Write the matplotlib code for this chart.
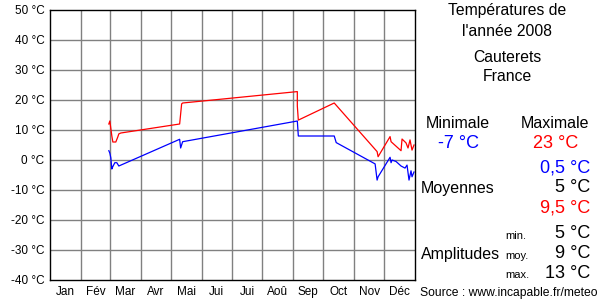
import matplotlib
matplotlib.use("Agg")
import matplotlib.pyplot as plt
import numpy as np

plt.rcParams["font.family"] = ["Liberation Sans", "DejaVu Sans"]

# day of year (0 = 1 Jan) and temperatures
max_days = [59, 60, 62, 63, 66, 68, 69, 71, 130, 132, 133, 248, 248, 249, 285, 328, 329, 341, 342, 352, 353, 357, 359, 361, 363, 365]
max_temp = [12, 13, 8, 6, 6, 7.7, 8.7, 9, 12, 18.7, 19, 22.8, 18, 13.3, 19, 2.8, 1.1, 7.8, 6.1, 3.1, 7, 5.7, 4, 6.7, 3.3, 5]
min_days = [59, 60, 61, 62, 63, 65, 67, 69, 130, 131, 133, 248, 249, 285, 287, 326, 328, 329, 341, 342, 343, 347, 352, 356, 358, 360, 362, 363, 365]
min_temp = [3.1, 2.3, 0.7, -3, -2.2, -0.9, -0.9, -2, 6.9, 4, 6.1, 13, 8, 8, 5.8, -1.3, -6.7, -5.6, 0.9, -0.9, 0, -0.5, -2, -2.7, -1.7, -6.7, -3.6, -5.6, -4]

month_labels = ["Jan", "Fév", "Mar", "Avr", "Mai", "Jui", "Jui", "Aoû", "Sep", "Oct", "Nov", "Déc"]
month_len = [31, 29, 31, 30, 31, 30, 31, 31, 30, 31, 30, 31]
y_ticks = [50, 40, 30, 20, 10, 0, -10, -20, -30, -40]

fig = plt.figure(figsize=(6, 3), dpi=100)
ax = fig.add_axes([50 / 600, 20 / 300, 365 / 600, 270 / 300])

edges = np.concatenate([[0], np.cumsum(month_len)])
scale = 365 / edges[-1]
edges = edges * scale
mids = (edges[:-1] + edges[1:]) / 2

ax.set_xlim(0, 365)
ax.set_ylim(-40, 50)
for e in edges[1:-1]:
    ax.axvline(e, color="#808080", lw=1.0, zorder=0)
for t in y_ticks[1:-1]:
    ax.axhline(t, color="#808080", lw=1.0, zorder=0)

ax.plot(np.array(max_days) * scale, max_temp, color="#ff0000", lw=0.9)
ax.plot(np.array(min_days) * scale, min_temp, color="#0000ff", lw=0.9)

ax.set_xticks(mids)
ax.set_xticklabels(month_labels, fontsize=8.5)
ax.set_yticks(y_ticks)
ax.set_yticklabels([f"{t} °C" for t in y_ticks], fontsize=8.5)
ax.tick_params(length=0, pad=4)
for s in ax.spines.values():
    s.set_color("black")
    s.set_linewidth(1)

def txt(x, y, s, size, color="black", ha="center"):
    fig.text(x / 600, 1 - y / 300, s, fontsize=size, color=color, ha=ha, va="center")

txt(507, 10, "Températures de", 11.3)
txt(507, 31, "l'année 2008", 11.3)
txt(507, 58, "Cauterets", 11.3)
txt(507, 76, "France", 11.3)
txt(458, 124, "Minimale", 11.5)
txt(555, 124, "Maximale", 11.5)
txt(459, 143, "-7 °C", 13, "#0000ff")
txt(556, 143, "23 °C", 13, "#ff0000")
txt(590, 168, "0,5 °C", 13, "#0000ff", ha="right")
txt(421, 189, "Moyennes", 11.5, ha="left")
txt(590, 188, "5 °C", 13, ha="right")
txt(590, 208, "9,5 °C", 13, "#ff0000", ha="right")
txt(505, 236, "min.", 8, ha="left")
txt(590, 233, "5 °C", 13, ha="right")
txt(421, 254, "Amplitudes", 11.5, ha="left")
txt(505, 256, "moy.", 8, ha="left")
txt(590, 253, "9 °C", 13, ha="right")
txt(505, 275, "max.", 8, ha="left")
txt(590, 273, "13 °C", 13, ha="right")
txt(597, 293, "Source : www.incapable.fr/meteo", 8.7, ha="right")

fig.savefig("out.png", dpi=100)
